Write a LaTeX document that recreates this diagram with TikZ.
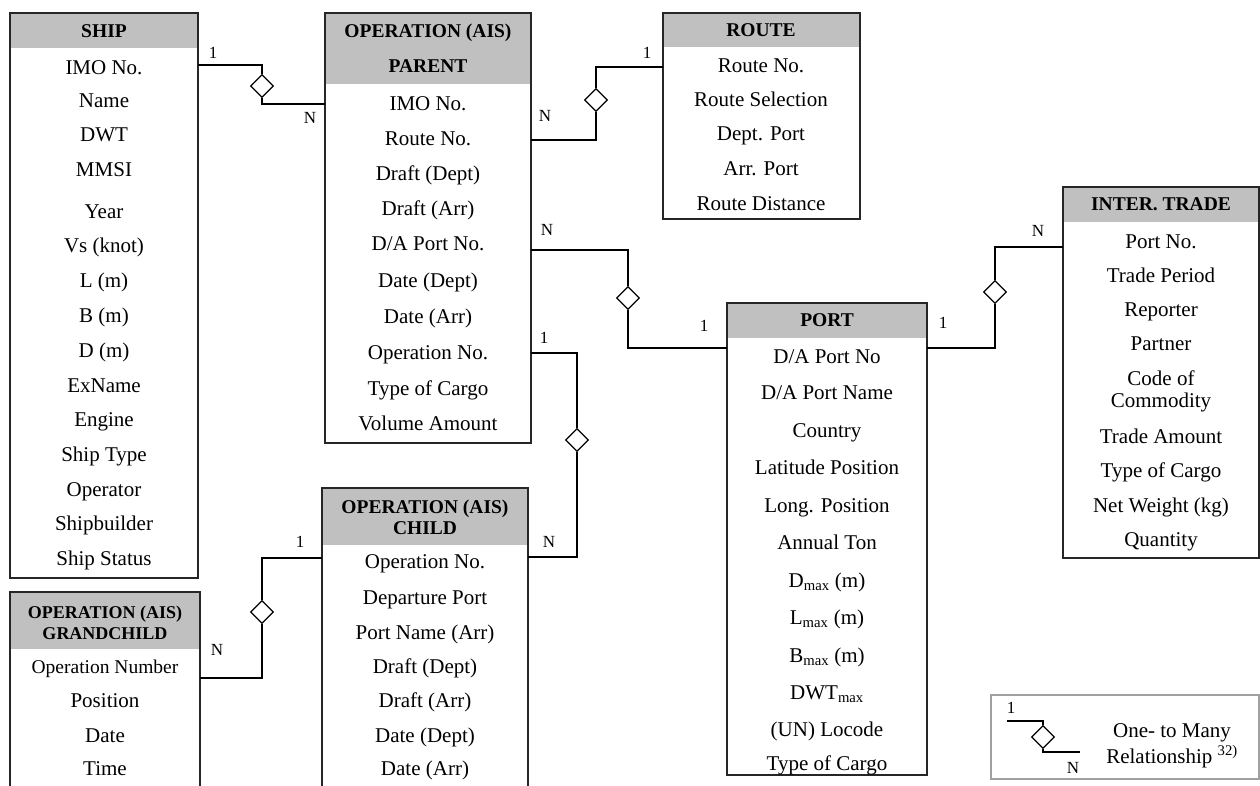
\documentclass[tikz,border=0pt]{standalone}
\usepackage{fontspec}
\setmainfont{Liberation Serif}
\usetikzlibrary{shapes.geometric}
\definecolor{hdrgray}{RGB}{192,192,192}
\definecolor{leggray}{RGB}{160,160,160}
\begin{document}
\begin{tikzpicture}[x=1pt,y=-1pt,
 ent/.style={draw=black!85, line width=1.3pt, anchor=north west, inner sep=0pt, outer sep=0pt},
 hdr/.style={fill=hdrgray, anchor=north west, inner sep=0pt, outer sep=0pt},
 hd/.style={font=\bfseries\fontsize{19.5}{22}\selectfont, inner sep=0pt, text height=13pt, text depth=0pt},
 hds/.style={font=\bfseries\fontsize{18}{21}\selectfont, inner sep=0pt, text height=12pt, text depth=0pt},
 row/.style={font=\fontsize{21}{24}\selectfont, inner sep=0pt, text height=14pt, text depth=0pt},
 rel/.style={diamond, draw, line width=1.3pt, minimum width=23pt, minimum height=23pt, inner sep=0pt, fill=white},
 conn/.style={line width=1.3pt},
 card/.style={font=\fontsize{17}{19}\selectfont, inner sep=0pt}
]
\useasboundingbox (0,0) rectangle (1260,785);
\fill[white] (0,0) rectangle (1260,785);

% ---------- header fills ----------
\node[hdr, minimum width=188pt, minimum height=35pt] (shiph) at (10,13) {};
\node[hdr, minimum width=206pt, minimum height=71pt] (parh) at (325,13) {};
\node[hdr, minimum width=197pt, minimum height=34pt] (routeh) at (663,13) {};
\node[hdr, minimum width=200pt, minimum height=35pt] (porth) at (727,303) {};
\node[hdr, minimum width=196pt, minimum height=35pt] (interh) at (1063,187) {};
\node[hdr, minimum width=206pt, minimum height=57pt] (childh) at (322,488) {};
\node[hdr, minimum width=190pt, minimum height=57pt] (gch) at (10,592) {};

% ---------- entity boxes ----------
\node[ent, minimum width=188pt, minimum height=565pt] (ship) at (10,13) {};
\node[ent, minimum width=206pt, minimum height=430pt] (par) at (325,13) {};
\node[ent, minimum width=197pt, minimum height=206pt] (route) at (663,13) {};
\node[ent, minimum width=200pt, minimum height=472pt] (port) at (727,303) {};
\node[ent, minimum width=196pt, minimum height=371pt] (inter) at (1063,187) {};
\node[ent, minimum width=206pt, minimum height=330pt] (child) at (322,488) {};
\node[ent, minimum width=190pt, minimum height=230pt] (gc) at (10,592) {};

% ---------- SHIP ----------
\node[hd] (shipt) at (104,31) {SHIP};
\node[row] (ship1) at (104,67) {IMO No.};
\node[row] (ship2) at (104,100) {Name};
\node[row] (ship3) at (104,134) {DWT};
\node[row] (ship4) at (104,169) {MMSI};
\node[row] (ship5) at (104,211) {Year};
\node[row] (ship6) at (104,245) {Vs (knot)};
\node[row] (ship7) at (104,280) {L (m)};
\node[row] (ship8) at (104,315) {B (m)};
\node[row] (ship9) at (104,350) {D (m)};
\node[row] (ship10) at (104,385) {ExName};
\node[row] (ship11) at (104,419) {Engine};
\node[row] (ship12) at (104,454) {Ship Type};
\node[row] (ship13) at (104,489) {Operator};
\node[row] (ship14) at (104,523) {Shipbuilder};
\node[row] (ship15) at (104,558) {Ship Status};

% ---------- PARENT ----------
\node[hd] (part1) at (428,31) {OPERATION (AIS)};
\node[hd] (part2) at (428,66) {PARENT};
\node[row] (par1) at (428,103) {IMO No.};
\node[row] (par2) at (428,138) {Route No.};
\node[row] (par3) at (428,173) {Draft (Dept)};
\node[row] (par4) at (428,208) {Draft (Arr)};
\node[row] (par5) at (428,243) {D/A Port No.};
\node[row] (par6) at (428,280) {Date (Dept)};
\node[row] (par7) at (428,316) {Date (Arr)};
\node[row] (par8) at (428,352) {Operation No.};
\node[row] (par9) at (428,388) {Type of Cargo};
\node[row] (par10) at (428,423) {Volume Amount};

% ---------- ROUTE ----------
\node[hd] (routet) at (761,30) {ROUTE};
\node[row] (route1) at (761,65) {Route No.};
\node[row] (route2) at (761,99) {Route Selection};
\node[row] (route3) at (761,133) {Dept. Port};
\node[row] (route4) at (761,168) {Arr. Port};
\node[row] (route5) at (761,203) {Route Distance};

% ---------- PORT ----------
\node[hd] (portt) at (827,320) {PORT};
\node[row] (port1) at (827,356) {D/A Port No};
\node[row] (port2) at (827,392) {D/A Port Name};
\node[row] (port3) at (827,430) {Country};
\node[row] (port4) at (827,467) {Latitude Position};
\node[row] (port5) at (827,505) {Long. Position};
\node[row] (port6) at (827,542) {Annual Ton};
\node[row] (port7) at (827,580) {D\textsubscript{max} (m)};
\node[row] (port8) at (827,617) {L\textsubscript{max} (m)};
\node[row] (port9) at (827,655) {B\textsubscript{max} (m)};
\node[row] (port10) at (827,692) {DWT\textsubscript{max}};
\node[row] (port11) at (827,729) {(UN) Locode};
\node[row] (port12) at (827,763) {Type of Cargo};

% ---------- INTER. TRADE ----------
\node[hd] (intert) at (1161,204) {INTER. TRADE};
\node[row] (inter1) at (1161,241) {Port No.};
\node[row] (inter2) at (1161,275) {Trade Period};
\node[row] (inter3) at (1161,309) {Reporter};
\node[row] (inter4) at (1161,343) {Partner};
\node[row] (inter5a) at (1161,378) {Code of};
\node[row] (inter5b) at (1161,400) {Commodity};
\node[row] (inter6) at (1161,436) {Trade Amount};
\node[row] (inter7) at (1161,470) {Type of Cargo};
\node[row] (inter8) at (1161,505) {Net Weight (kg)};
\node[row] (inter9) at (1161,539) {Quantity};

% ---------- CHILD ----------
\node[hd] (childt1) at (425,507) {OPERATION (AIS)};
\node[hd] (childt2) at (425,528) {CHILD};
\node[row] (child1) at (425,561) {Operation No.};
\node[row] (child2) at (425,597) {Departure Port};
\node[row] (child3) at (425,632) {Port Name (Arr)};
\node[row] (child4) at (425,666) {Draft (Dept)};
\node[row] (child5) at (425,700) {Draft (Arr)};
\node[row] (child6) at (425,735) {Date (Dept)};
\node[row] (child7) at (425,768) {Date (Arr)};

% ---------- GRANDCHILD ----------
\node[hds] (gct1) at (105,612) {OPERATION (AIS)};
\node[hds] (gct2) at (105,633) {GRANDCHILD};
\node[row, font=\fontsize{19.5}{22}\selectfont] (gc1) at (105,666) {Operation Number};
\node[row] (gc2) at (105,700) {Position};
\node[row] (gc3) at (105,735) {Date};
\node[row] (gc4) at (105,768) {Time};

% ---------- relationship diamonds ----------
\node[rel] (r1) at (262,86) {};
\node[rel] (r2) at (596,100) {};
\node[rel] (r3) at (628,298) {};
\node[rel] (r4) at (995,292) {};
\node[rel] (r5) at (577,440) {};
\node[rel] (r6) at (262,612) {};

% ---------- connectors ----------
\draw[conn] ([yshift=-52pt]ship.north east) -| (r1.north);
\draw[conn] (r1.south) |- ([yshift=-91pt]par.north west);
\draw[conn] ([yshift=-127pt]par.north east) -| (r2.south);
\draw[conn] (r2.north) |- ([yshift=-54pt]route.north west);
\draw[conn] ([yshift=-237pt]par.north east) -| (r3.north);
\draw[conn] (r3.south) |- ([yshift=-45pt]port.north west);
\draw[conn] ([yshift=-45pt]port.north east) -| (r4.south);
\draw[conn] (r4.north) |- ([yshift=-60pt]inter.north west);
\draw[conn] ([yshift=-340pt]par.north east) -| (r5.north);
\draw[conn] (r5.south) |- ([yshift=-69pt]child.north east);
\draw[conn] ([yshift=-70pt]child.north west) -| (r6.north);
\draw[conn] (r6.south) |- ([yshift=-86pt]gc.north east);

% ---------- cardinalities ----------
\node[card] (k1a) at (213,53) {1};
\node[card] (k1b) at (310,118) {N};
\node[card] (k2a) at (545,116) {N};
\node[card] (k2b) at (647,53) {1};
\node[card] (k3a) at (547,230) {N};
\node[card] (k3b) at (704,326) {1};
\node[card] (k4a) at (943,323) {1};
\node[card] (k4b) at (1038,231) {N};
\node[card] (k5a) at (544,338) {1};
\node[card] (k5b) at (549,542) {N};
\node[card] (k6a) at (300,542) {1};
\node[card] (k6b) at (217,650) {N};

% ---------- legend ----------
\node[draw=leggray, line width=1.5pt, anchor=north west, minimum width=268pt, minimum height=84pt, inner sep=0pt] (leg) at (990,694) {};
\node[rel] (rl) at (1043,737) {};
\draw[conn] ([xshift=17pt,yshift=-27pt]leg.north west) -| (rl.north);
\draw[conn] (rl.south) |- ([xshift=90pt,yshift=-58pt]leg.north west);
\node[card] (kla) at (1011,708) {1};
\node[card] (klb) at (1073,768) {N};
\node[row] (legt1) at (1172,730) {One- to Many};
\node[row] (legt2) at (1172,756) {Relationship \textsuperscript{32)}};
\end{tikzpicture}
\end{document}
